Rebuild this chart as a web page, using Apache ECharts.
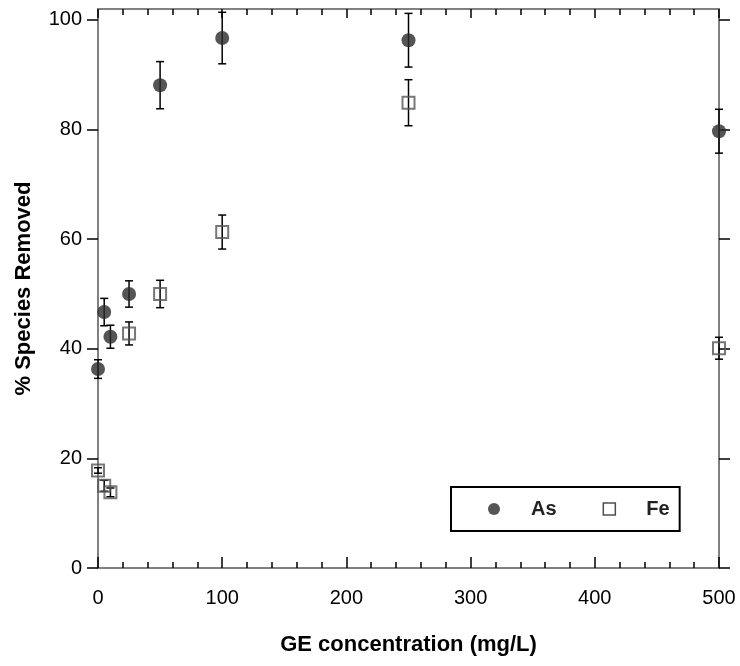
<!DOCTYPE html>
<html>
<head>
<meta charset="utf-8">
<script src="https://cdn.jsdelivr.net/npm/echarts@6/dist/echarts.min.js"></script>
<style>
html,body{margin:0;padding:0;background:#fff;}
#chart{width:740px;height:666px;}
</style>
</head>
<body>
<div id="chart"></div>
<script>
// ---- data ----
var xValues  = [0, 5, 10, 25, 50, 100, 250, 500];
var asValues = [36.3, 46.7, 42.2, 50.0, 88.1, 96.7, 96.3, 79.7];
var asErrors = [1.7, 2.5, 2.1, 2.4, 4.3, 4.7, 4.9, 4.0];
var feValues = [17.8, 15.0, 13.8, 42.8, 50.0, 61.3, 84.9, 40.1];
var feErrors = [0.5, 1.0, 0.8, 2.1, 2.5, 3.1, 4.2, 2.0];
var xTicks = [0, 100, 200, 300, 400, 500];
var yTicks = [0, 20, 40, 60, 80, 100];
var seriesNames = ['As', 'Fe'];
var xTitle = 'GE concentration (mg/L)';
var yTitle = '% Species Removed';

var FONT = "'Liberation Sans', Arial, sans-serif";

function pts(vals) {
  return xValues.map(function (x, i) { return [x, vals[i]]; });
}
function errPts(vals, errs) {
  return xValues.map(function (x, i) { return [x, vals[i], errs[i]]; });
}
function errRender(params, api) {
  var x = api.value(0), y = api.value(1), e = api.value(2);
  var hi = api.coord([x, y + e]);
  var lo = api.coord([x, y - e]);
  var cw = 4;
  var st = { stroke: '#000', lineWidth: 1.5 };
  return {
    type: 'group',
    children: [
      { type: 'line', shape: { x1: hi[0], y1: hi[1], x2: lo[0], y2: lo[1] }, style: st },
      { type: 'line', shape: { x1: hi[0] - cw, y1: hi[1], x2: hi[0] + cw, y2: hi[1] }, style: st },
      { type: 'line', shape: { x1: lo[0] - cw, y1: lo[1], x2: lo[0] + cw, y2: lo[1] }, style: st }
    ]
  };
}

var axisLineStyle = { color: '#808080', width: 2 };
var tickStyle = { color: '#000', width: 1.5 };

var chart = echarts.init(document.getElementById('chart'), null, { renderer: 'canvas' });
chart.setOption({
  animation: false,
  backgroundColor: '#fff',
  grid: { left: 98, right: 21, top: 9, bottom: 98, containLabel: false, outerBoundsMode: 'none' },
  legend: {
    data: [
      { name: seriesNames[0], icon: 'circle', itemStyle: { color: '#2a2a2a' } },
      { name: seriesNames[1], icon: 'rect', itemStyle: { color: 'rgba(255,255,255,0)', borderColor: '#222', borderWidth: 1.5 } }
    ],
    left: 451, top: 487,
    orient: 'horizontal',
    selectedMode: false,
    itemWidth: 12, itemHeight: 12,
    itemGap: 46,
    padding: [12, 10, 12, 37],
    borderColor: '#000', borderWidth: 2,
    textStyle: { fontFamily: FONT, fontSize: 20, fontWeight: 'bold', color: '#222', padding: [0, 0, 0, 26] }
  },
  xAxis: [{
    type: 'value', position: 'bottom', min: 0, max: 500, interval: 100,
    axisLine: { show: true, onZero: false, lineStyle: axisLineStyle },
    axisTick: { show: true, inside: true, length: 11, lineStyle: tickStyle, customValues: xTicks },
    minorTick: { show: true, splitNumber: 5, length: 6, lineStyle: tickStyle },
    axisLabel: { fontFamily: FONT, fontSize: 20, color: '#000', margin: 20, customValues: xTicks },
    splitLine: { show: false },
    name: xTitle, nameLocation: 'middle', nameGap: 66,
    nameTextStyle: { fontFamily: FONT, fontSize: 22, fontWeight: 'bold', color: '#000' }
  }, {
    type: 'value', position: 'top', min: 0, max: 500, interval: 100,
    axisLine: { show: true, onZero: false, lineStyle: axisLineStyle },
    axisTick: { show: true, inside: true, length: 9, lineStyle: tickStyle },
    minorTick: { show: true, splitNumber: 5, length: 6, lineStyle: tickStyle },
    axisLabel: { show: false },
    splitLine: { show: false }
  }],
  yAxis: [{
    type: 'value', position: 'left', min: 0, max: 102, interval: 20,
    axisLine: { show: true, onZero: false, lineStyle: axisLineStyle },
    axisTick: { show: true, inside: false, length: 11, lineStyle: tickStyle, customValues: yTicks },
    axisLabel: { fontFamily: FONT, fontSize: 20, color: '#000', margin: 16, customValues: yTicks },
    splitLine: { show: false },
    name: yTitle, nameLocation: 'middle', nameGap: 63,
    nameTextStyle: { fontFamily: FONT, fontSize: 22, fontWeight: 'bold', color: '#000' }
  }, {
    type: 'value', position: 'right', min: 0, max: 102, interval: 20,
    axisLine: { show: true, onZero: false, lineStyle: axisLineStyle },
    axisTick: { show: true, inside: false, length: 11, lineStyle: tickStyle, customValues: yTicks },
    axisLabel: { show: false },
    splitLine: { show: false }
  }],
  series: [{
    type: 'custom', name: 'As error', renderItem: errRender, data: errPts(asValues, asErrors),
    xAxisIndex: 0, yAxisIndex: 0, clip: false, z: 3, silent: true
  }, {
    type: 'custom', name: 'Fe error', renderItem: errRender, data: errPts(feValues, feErrors),
    xAxisIndex: 0, yAxisIndex: 0, clip: false, z: 3, silent: true
  }, {
    type: 'scatter', name: seriesNames[0], data: pts(asValues), symbol: 'circle', symbolSize: 14,
    itemStyle: { color: '#2a2a2a' }, clip: false, z: 4
  }, {
    type: 'scatter', name: seriesNames[1], data: pts(feValues), symbol: 'rect', symbolSize: 12,
    itemStyle: { color: 'rgba(255,255,255,0)', borderColor: '#555', borderWidth: 2 }, clip: false, z: 4
  }]
});
</script>
</body>
</html>
